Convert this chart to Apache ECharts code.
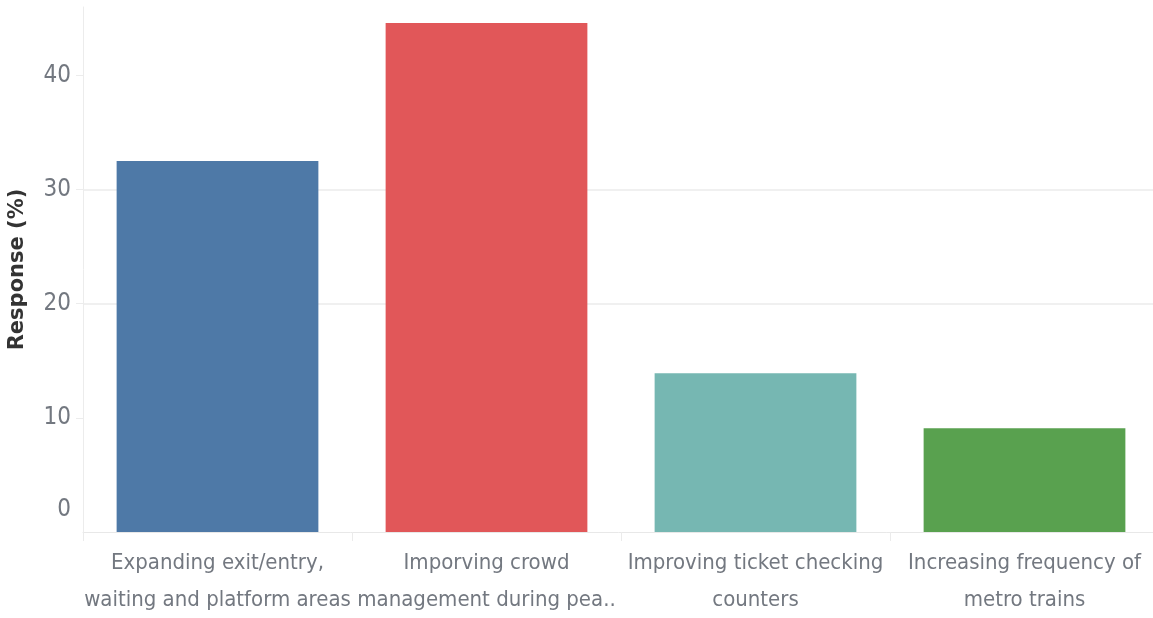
<!DOCTYPE html>
<html>
<head>
<meta charset="utf-8">
<script src="https://cdn.jsdelivr.net/npm/echarts@6/dist/echarts.min.js"></script>
<style>
html,body{margin:0;padding:0;background:#fff;}
#chart{width:1153px;height:618px;}
</style>
</head>
<body>
<div id="chart"></div>
<script>
const categories = [
  "Expanding exit/entry,\nwaiting and platform areas",
  "Imporving crowd\nmanagement during pea..",
  "Improving ticket checking\ncounters",
  "Increasing frequency of\nmetro trains"
];
const responses = [32.5, 44.6, 13.9, 9.1];
const barColors = ["#4e79a7", "#e15759", "#76b7b2", "#59a14f"];
const yTicks = [0, 10, 20, 30, 40];

const FONT = '"Liberation Sans Narrow", "DejaVu Sans Condensed", "Liberation Sans", sans-serif';
const LABEL_COLOR = '#737880';
const chart = echarts.init(document.getElementById('chart'));
chart.setOption({
  animation: false,
  backgroundColor: '#ffffff',
  grid: { left: 83, width: 1076, top: 7, bottom: 86, containLabel: false, outerBoundsMode: 'none' },
  xAxis: {
    type: 'category',
    data: categories,
    axisLine: { show: true, lineStyle: { color: '#e8e8e8', width: 1 } },
    axisTick: { show: true, alignWithLabel: false, length: 9, lineStyle: { color: '#ebebeb' } },
    axisLabel: {
      interval: 0, margin: 13, color: LABEL_COLOR, fontFamily: FONT,
      fontSize: 22, lineHeight: 37, align: 'center', hideOverlap: false
    },
    splitLine: { show: false }
  },
  yAxis: {
    type: 'value',
    min: 0, max: 46, interval: 10,
    name: 'Response (%)',
    nameLocation: 'middle',
    nameGap: 55,
    nameRotate: 90,
    nameTextStyle: { color: '#333333', fontWeight: 'bold', fontSize: 21, fontFamily: '"DejaVu Sans", sans-serif' },
    axisLine: { show: true, lineStyle: { color: '#ececec', width: 1 } },
    axisTick: { show: true, length: 7, customValues: [10, 20, 30, 40], lineStyle: { color: '#ececec' } },
    axisLabel: {
      customValues: yTicks,
      margin: 12, color: LABEL_COLOR, fontFamily: FONT, fontSize: 24,
      formatter: function (v) { return v === 0 ? '{z|0}' : String(v); },
      rich: { z: { fontSize: 24, fontFamily: FONT, color: LABEL_COLOR, padding: [0, 0, 44, 0] } }
    },
    splitLine: { show: true, showMinLine: false, showMaxLine: false, lineStyle: { color: '#f0f0f0', width: 2 } }
  },
  series: [{
    type: 'bar',
    data: responses.map((v, i) => ({ value: v, itemStyle: { color: barColors[i] } })),
    barCategoryGap: '25%'
  }]
});
</script>
</body>
</html>
